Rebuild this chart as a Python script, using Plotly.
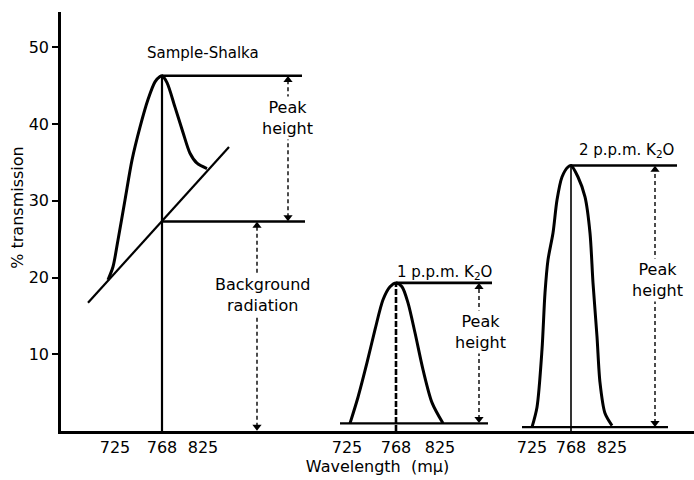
import plotly.graph_objects as go

# % transmission ticks on the vertical axis
y_ticks = [10, 20, 30, 40, 50]
# wavelength labels (mμ) repeated beneath each trace
wavelength_labels = ["725", "768", "825"]

# position of each trace's 768 mμ line along the baseline
panel_centres = [101, 335, 510]
# offsets of the 725 / 768 / 825 labels from each panel centre
tick_offsets = [[-47, 0, 41], [-49, 0, 44], [-39, 0, 41]]

# Sample-Shalka emission trace (offset from 768 line, % transmission)
shalka_offset = [-54, -49, -44, -37, -30, -22, -14, -7, -2, 0, 5, 13, 21, 28, 35, 45]
shalka_value = [19.7, 21.4, 24.9, 30.1, 35.3, 39.6, 43.2, 45.5, 46.2, 46.3,
                45.4, 42.2, 38.9, 36.2, 34.9, 34.2]
# sloping background radiation line under the sample trace
background_offset = [-74, 67]
background_value = [16.7, 37.0]
shalka_peak = 46.3
shalka_background = 27.3

# 1 p.p.m. K2O standard
k1_offset = [-46, -38, -29, -21, -13, -6, 0, 6, 12, 19, 27, 36, 47]
k1_value = [1.0, 4.4, 8.9, 13.2, 17.1, 18.8, 19.3, 18.8, 16.7, 12.8, 8.0, 3.7, 1.0]
k1_peak = 19.3
k1_base = 1.0

# 2 p.p.m. K2O standard
k2_offset = [-39, -34, -29, -26, -23, -18, -14, -9, -3, 0, 7, 14, 19, 22, 26, 29, 34, 41]
k2_value = [0.5, 3.1, 10.6, 18.0, 22.3, 25.8, 30.1, 33.1, 34.4, 34.6,
            33.1, 30.5, 25.8, 19.3, 12.3, 6.3, 2.3, 0.7]
k2_peak = 34.6
k2_base = 0.5

FONT = "DejaVu Sans"
INK = "black"

fig = go.Figure()


def line(xs, ys, width=2.0, dash="solid", smooth=False):
    shape = "spline" if smooth else "linear"
    fig.add_trace(go.Scatter(x=xs, y=ys, mode="lines", showlegend=False,
                             hoverinfo="skip",
                             line=dict(color=INK, width=width, dash=dash,
                                       shape=shape, smoothing=0.8)))


def double_arrow(x, y_low, y_high):
    # dashed measuring line with an arrowhead at each end
    tip = 0.55
    line([x, x], [y_low + tip, y_high - tip], width=1.4, dash="4px,3px")
    fig.add_trace(go.Scatter(x=[x, x], y=[y_high - tip, y_low + tip], mode="markers",
                             showlegend=False, hoverinfo="skip",
                             marker=dict(symbol=["triangle-up", "triangle-down"],
                                         size=8, color=INK)))


def label(x, y, text, size=16):
    fig.add_annotation(x=x, y=y, text=text, showarrow=False, bgcolor="white",
                       borderpad=1, font=dict(family=FONT, size=size, color=INK))


# ---- Sample-Shalka ----
c = panel_centres[0]
line([c + o for o in shalka_offset], shalka_value, width=3, smooth=True)
line([c + o for o in background_offset], background_value, width=2.2)
line([c, c], [0, shalka_peak], width=2.2)
line([c, c + 140], [shalka_peak, shalka_peak], width=2.6)
line([c, c + 143], [shalka_background, shalka_background], width=2.6)
double_arrow(c + 126, shalka_background, shalka_peak)
double_arrow(c + 95, 0, shalka_background)
label(c + 125, 40.8, "Peak<br>height")
label(c + 100, 17.7, "Background<br>radiation")
label(c + 41, 49.3, "Sample-Shalka", size=15)

# ---- 1 p.p.m. K2O ----
c = panel_centres[1]
line([c + o for o in k1_offset], k1_value, width=3, smooth=True)
line([c - 56, c + 92], [k1_base, k1_base], width=2.4)
line([c, c + 96], [k1_peak, k1_peak], width=2.6)
line([c, c], [0, k1_peak], width=2.6, dash="6px,2px")
double_arrow(c + 83, k1_base, k1_peak)
label(c + 84, 12.9, "Peak<br>height")
fig.add_annotation(x=c + 48, y=20.6, text="1 p.p.m. K<sub>2</sub>O", showarrow=False,
                   font=dict(family=FONT, size=15, color=INK))

# ---- 2 p.p.m. K2O ----
c = panel_centres[2]
line([c + o for o in k2_offset], k2_value, width=3, smooth=True)
line([c - 49, c + 97], [k2_base, k2_base], width=2.4)
line([c, c + 106], [k2_peak, k2_peak], width=2.6)
line([c, c], [0, k2_peak], width=1.6)
double_arrow(c + 84, k2_base, k2_peak)
label(c + 86, 19.7, "Peak<br>height")
fig.add_annotation(x=c + 55, y=36.6, text="2 p.p.m. K<sub>2</sub>O", showarrow=False,
                   font=dict(family=FONT, size=15, color=INK))

# vertical axis title, set a little above the plot's midpoint
fig.add_annotation(xref="paper", yref="paper", x=-0.068, y=0.535,
                   xanchor="center", yanchor="middle",
                   text="% transmission", textangle=-90, showarrow=False,
                   font=dict(family=FONT, size=16, color=INK))

tickvals = [pc + o for pc, offs in zip(panel_centres, tick_offsets) for o in offs]
ticktext = wavelength_labels * len(panel_centres)

fig.update_layout(
    width=694, height=480,
    margin=dict(l=61, r=0, t=12, b=49),
    paper_bgcolor="white", plot_bgcolor="white",
    font=dict(family=FONT, color=INK, size=16),
    xaxis=dict(range=[0, 633], showgrid=False, zeroline=False,
               showline=True, linecolor=INK, linewidth=2.5,
               ticks="", tickvals=tickvals, ticktext=ticktext,
               tickfont=dict(size=16), ticklabelstandoff=0,
               title=dict(text="Wavelength  (mμ)", font=dict(size=16), standoff=4)),
    yaxis=dict(range=[0, 54.6], showgrid=False, zeroline=False,
               showline=True, linecolor=INK, linewidth=2.5,
               ticks="outside", ticklen=6, tickwidth=2, tickcolor=INK,
               tickvals=y_ticks, tickfont=dict(size=16)),
)

fig.write_html("out.html")
